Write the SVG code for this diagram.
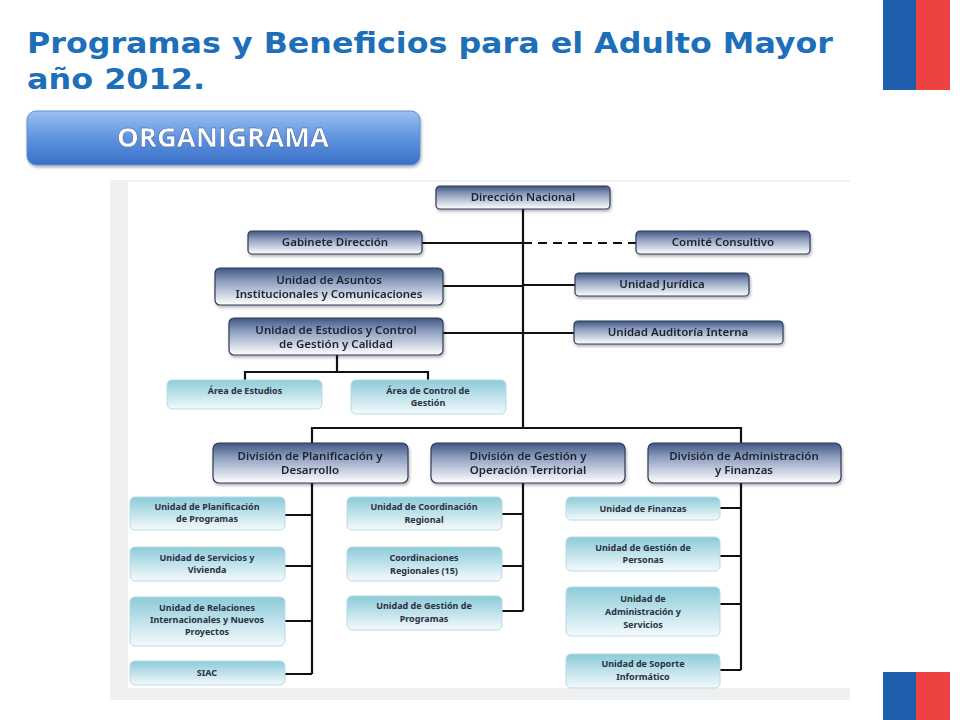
<svg xmlns="http://www.w3.org/2000/svg" width="960" height="720" viewBox="0 0 960 720">
<defs>
<linearGradient id="gd" x1="0" y1="0" x2="0" y2="1"><stop offset="0" stop-color="#3f5683"/><stop offset="0.35" stop-color="#8d9dbd"/><stop offset="1" stop-color="#ffffff"/></linearGradient>
<linearGradient id="gl" x1="0" y1="0" x2="0" y2="1"><stop offset="0" stop-color="#8ccbd9"/><stop offset="1" stop-color="#f4fafc"/></linearGradient>
<linearGradient id="gb" x1="0" y1="0" x2="0" y2="1"><stop offset="0" stop-color="#9dc0f3"/><stop offset="0.5" stop-color="#5f93e0"/><stop offset="1" stop-color="#3a6fc6"/></linearGradient>
<filter id="sh" x="-5%" y="-10%" width="110%" height="130%"><feDropShadow dx="1" dy="2" stdDeviation="1.5" flood-color="#000" flood-opacity="0.3"/></filter>
</defs>
<style>
.d{fill:url(#gd);stroke:#2c3a5a;stroke-width:1.2}
.l{fill:url(#gl);stroke:#b8dbe5;stroke-width:1}
text{font-family:"Noto Sans","DejaVu Sans",sans-serif;text-anchor:middle;fill:#1c2233}
.td{font-size:11.5px;font-weight:600}
.tl{font-size:9px;font-weight:bold;fill:#2a3040}
.c{stroke:#111;stroke-width:2.2;fill:none}
</style>
<rect width="960" height="720" fill="#fff"/>
<rect x="110" y="180" width="740" height="520" fill="#eef0f2"/>
<rect x="128" y="182" width="722" height="506" fill="#fff"/>
<g id="title">
<text x="27" y="53" style="text-anchor:start;font-family:'DejaVu Sans',sans-serif;font-weight:bold;font-size:29px;fill:#1d6fba" textLength="806" lengthAdjust="spacingAndGlyphs">Programas y Beneficios para el Adulto Mayor</text>
<text x="27" y="89" style="text-anchor:start;font-family:'DejaVu Sans',sans-serif;font-weight:bold;font-size:29px;fill:#1d6fba" textLength="178" lengthAdjust="spacingAndGlyphs">año 2012.</text>
</g>
<g id="flags">
<rect x="883" y="0" width="33" height="90" fill="#1f5fae"/><rect x="916" y="0" width="34" height="90" fill="#ee4242"/>
<rect x="883" y="672" width="33" height="48" fill="#1f5fae"/><rect x="916" y="672" width="34" height="48" fill="#ee4242"/>
</g>
<g id="btn" filter="url(#sh)">
<rect x="27" y="111" width="393" height="54" rx="9" fill="url(#gb)" stroke="#5d8fd8"/>
<text x="223" y="147" style="font-family:'Open Sans',sans-serif;font-weight:bold;font-size:26px;fill:#fff;stroke:#2a4f8e;stroke-width:0.4" textLength="212" lengthAdjust="spacingAndGlyphs">ORGANIGRAMA</text>
</g>
<g id="connectors">
<path class="c" d="M523 209V428M422 243H523M443 286H523M443 333H523M523 285H575M523 333H574"/>
<path d="M523 243H636" stroke="#111" stroke-width="2.2" stroke-dasharray="9,6"/>
<path class="c" d="M337 355V372M245 380V372H428V380"/>
<path class="c" d="M312 443V428H741V443M312 483V674M285 515H312M285 566H312M285 621H312M285 674H312"/>
<path class="c" d="M523 483V611M502 514H523M502 566H523M502 611H523"/>
<path class="c" d="M741 483V670M720 508H741M720 556H741M720 604H741M720 670H741"/>
</g>
<g id="n1" filter="url(#sh)"><rect class="d" x="436" y="186" width="174" height="23" rx="4"/><text class="td" x="523" y="201">Dirección Nacional</text></g>
<g id="n2" filter="url(#sh)"><rect class="d" x="248" y="231" width="174" height="23" rx="4"/><text class="td" x="335" y="246">Gabinete Dirección</text></g>
<g id="n3" filter="url(#sh)"><rect class="d" x="636" y="231" width="174" height="23" rx="4"/><text class="td" x="723" y="246">Comité Consultivo</text></g>
<g id="n4" filter="url(#sh)"><rect class="d" x="215" y="268" width="228" height="37" rx="5"/><text class="td" x="329" y="284">Unidad de Asuntos</text><text class="td" x="329" y="298">Institucionales y Comunicaciones</text></g>
<g id="n5" filter="url(#sh)"><rect class="d" x="575" y="273" width="174" height="23" rx="4"/><text class="td" x="662" y="288">Unidad Jurídica</text></g>
<g id="n6" filter="url(#sh)"><rect class="d" x="229" y="318" width="214" height="37" rx="5"/><text class="td" x="336" y="334">Unidad de Estudios y Control</text><text class="td" x="336" y="348">de Gestión y Calidad</text></g>
<g id="n7" filter="url(#sh)"><rect class="d" x="574" y="321" width="209" height="23" rx="4"/><text class="td" x="678" y="336">Unidad Auditoría Interna</text></g>
<g id="n8"><rect class="l" x="167" y="380" width="155" height="29" rx="5"/><text class="tl" x="245" y="394">Área de Estudios</text></g>
<g id="n9"><rect class="l" x="351" y="380" width="155" height="34" rx="5"/><text class="tl" x="428" y="394">Área de Control de</text><text class="tl" x="428" y="406">Gestión</text></g>
<g id="n10" filter="url(#sh)"><rect class="d" x="213" y="443" width="195" height="40" rx="6"/><text class="td" x="310" y="460">División de Planificación y</text><text class="td" x="310" y="474">Desarrollo</text></g>
<g id="n11" filter="url(#sh)"><rect class="d" x="431" y="443" width="194" height="40" rx="6"/><text class="td" x="528" y="460">División de Gestión y</text><text class="td" x="528" y="474">Operación Territorial</text></g>
<g id="n12" filter="url(#sh)"><rect class="d" x="648" y="443" width="193" height="40" rx="6"/><text class="td" x="744" y="460">División de Administración</text><text class="td" x="744" y="474">y Finanzas</text></g>
<g id="n13"><rect class="l" x="130" y="497" width="155" height="33" rx="5"/><text class="tl" x="207" y="510">Unidad de Planificación</text><text class="tl" x="207" y="522">de Programas</text></g>
<g id="n14"><rect class="l" x="130" y="547" width="155" height="34" rx="5"/><text class="tl" x="207" y="561">Unidad de Servicios y</text><text class="tl" x="207" y="573">Vivienda</text></g>
<g id="n15"><rect class="l" x="130" y="597" width="155" height="49" rx="5"/><text class="tl" x="207" y="611">Unidad de Relaciones</text><text class="tl" x="207" y="623">Internacionales y Nuevos</text><text class="tl" x="207" y="635">Proyectos</text></g>
<g id="n16"><rect class="l" x="130" y="661" width="155" height="24" rx="5"/><text class="tl" x="207" y="676">SIAC</text></g>
<g id="n17"><rect class="l" x="347" y="497" width="155" height="33" rx="5"/><text class="tl" x="424" y="510">Unidad de Coordinación</text><text class="tl" x="424" y="523">Regional</text></g>
<g id="n18"><rect class="l" x="347" y="547" width="155" height="34" rx="5"/><text class="tl" x="424" y="561">Coordinaciones</text><text class="tl" x="424" y="574">Regionales (15)</text></g>
<g id="n19"><rect class="l" x="347" y="596" width="155" height="34" rx="5"/><text class="tl" x="424" y="609">Unidad de Gestión de</text><text class="tl" x="424" y="622">Programas</text></g>
<g id="n20"><rect class="l" x="566" y="497" width="154" height="23" rx="5"/><text class="tl" x="643" y="512">Unidad de Finanzas</text></g>
<g id="n21"><rect class="l" x="566" y="537" width="154" height="34" rx="5"/><text class="tl" x="643" y="551">Unidad de Gestión de</text><text class="tl" x="643" y="563">Personas</text></g>
<g id="n22"><rect class="l" x="566" y="587" width="154" height="49" rx="5"/><text class="tl" x="643" y="602">Unidad de</text><text class="tl" x="643" y="615">Administración y</text><text class="tl" x="643" y="628">Servicios</text></g>
<g id="n23"><rect class="l" x="566" y="654" width="154" height="34" rx="5"/><text class="tl" x="643" y="667">Unidad de Soporte</text><text class="tl" x="643" y="680">Informático</text></g>
</svg>
